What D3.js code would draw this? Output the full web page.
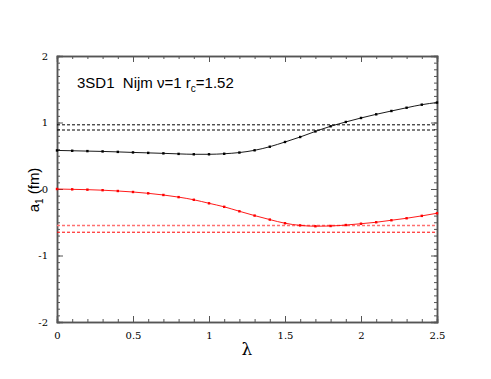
<!DOCTYPE html>
<html lang="en">
	<head>
		<meta charset="utf-8">
		<title>a1 vs lambda</title>
		<script type="text/javascript" src="https://cdn.jsdelivr.net/npm/d3@7"></script>
		<style type="text/css">
			body { margin: 0; background: #fff; }
			.serif { font-family: "DejaVu Serif", serif; }
		</style>
	</head>
	<body>
		<script type="text/javascript">

			//Width and height
			var w = 491;
			var h = 379;

			// data
			var lambda = [0, 0.1, 0.2, 0.3, 0.4, 0.5, 0.6, 0.7, 0.8, 0.9, 1.0, 1.1, 1.2,
			              1.3, 1.4, 1.5, 1.6, 1.7, 1.8, 1.9, 2.0, 2.1, 2.2, 2.3, 2.4, 2.5];
			var blackSeries = [0.58, 0.575, 0.57, 0.565, 0.558, 0.55, 0.543, 0.536, 0.528, 0.522, 0.522, 0.53, 0.548,
			                   0.582, 0.636, 0.707, 0.782, 0.866, 0.943, 1.008, 1.068, 1.123, 1.173, 1.222, 1.268, 1.30];
			var redSeries = [0, -0.005, -0.01, -0.018, -0.03, -0.045, -0.065, -0.09, -0.122, -0.162, -0.215, -0.268, -0.335,
			                 -0.40, -0.46, -0.515, -0.547, -0.56, -0.556, -0.542, -0.522, -0.50, -0.47, -0.44, -0.404, -0.365];
			var blackRefs = [0.965, 0.887];
			var redRefs = [-0.55, -0.65];

			var xTicks = [0, 0.5, 1, 1.5, 2, 2.5];
			var yTicks = [-2, -1, 0, 1, 2];

			var margin = {left: 57, right: 54, top: 56, bottom: 57};

			var x = d3.scaleLinear().domain([0, 2.5]).range([margin.left, w - margin.right]);
			var y = d3.scaleLinear().domain([-2, 2]).range([h - margin.bottom, margin.top]);

			//Create SVG element
			var svg = d3.select("body")
						.append("svg")
						.attr("width", w)
						.attr("height", h);

			var minorX = d3.range(0, 2.501, 0.1);
			var minorY = d3.range(-2, 2.001, 0.1);

			function fmt(d) { return String(d); }

			// axes, ticks pointing inward
			var axColor = "#555";
			svg.append("g")
				.attr("transform", "translate(0," + y(-2) + ")")
				.call(d3.axisBottom(x).tickValues(minorX).tickSize(-3).tickFormat(""));
			svg.append("g")
				.attr("transform", "translate(0," + y(-2) + ")")
				.call(d3.axisBottom(x).tickValues(xTicks).tickSize(-6).tickPadding(10).tickFormat(fmt));
			svg.append("g")
				.attr("transform", "translate(0," + y(2) + ")")
				.call(d3.axisTop(x).tickValues(minorX).tickSize(-3).tickFormat(""));
			svg.append("g")
				.attr("transform", "translate(0," + y(2) + ")")
				.call(d3.axisTop(x).tickValues(xTicks).tickSize(-6).tickFormat(""));
			svg.append("g")
				.attr("transform", "translate(" + x(0) + ",0)")
				.call(d3.axisLeft(y).tickValues(minorY).tickSize(-3).tickFormat(""));
			svg.append("g")
				.attr("transform", "translate(" + x(0) + ",0)")
				.call(d3.axisLeft(y).tickValues(yTicks).tickSize(-6).tickPadding(9).tickFormat(fmt));
			svg.append("g")
				.attr("transform", "translate(" + x(2.5) + ",0)")
				.call(d3.axisRight(y).tickValues(minorY).tickSize(-3).tickFormat(""));
			svg.append("g")
				.attr("transform", "translate(" + x(2.5) + ",0)")
				.call(d3.axisRight(y).tickValues(yTicks).tickSize(-6).tickFormat(""));

			svg.selectAll(".domain").attr("stroke", axColor).attr("stroke-width", 1.5);
			svg.selectAll(".tick line").attr("stroke", axColor);
			svg.selectAll("g").attr("font-family", null);
			svg.selectAll(".tick text")
				.attr("class", "serif")
				.style("font-size", "10px")
				.attr("fill", "#000");

			// reference dashed lines
			svg.selectAll("line.bref")
				.data(blackRefs)
				.enter()
				.append("line")
				.attr("x1", x(0)).attr("x2", x(2.5))
				.attr("y1", function(d) { return y(d); })
				.attr("y2", function(d) { return y(d); })
				.attr("stroke", "#000")
				.attr("stroke-width", 1)
				.attr("stroke-dasharray", "3,2");

			svg.selectAll("line.rref")
				.data(redRefs)
				.enter()
				.append("line")
				.attr("x1", x(0)).attr("x2", x(2.5))
				.attr("y1", function(d) { return y(d); })
				.attr("y2", function(d) { return y(d); })
				.attr("stroke", function(d, i) { return i == 0 ? "#ff7070" : "#ff0000"; })
				.attr("stroke-width", function(d, i) { return i == 0 ? 1.5 : 1; })
				.attr("stroke-dasharray", "3,2");

			var line = d3.line()
				.x(function(d) { return x(d[0]); })
				.y(function(d) { return y(d[1]); })
				.curve(d3.curveMonotoneX);

			function drawSeries(vals, col) {
				var pts = lambda.map(function(l, i) { return [l, vals[i]]; });
				svg.append("path")
					.attr("d", line(pts))
					.attr("fill", "none")
					.attr("stroke", col)
					.attr("stroke-width", 0.9);
				svg.selectAll(null)
					.data(pts)
					.enter()
					.append("rect")
					.attr("x", function(d) { return x(d[0]) - 1.2; })
					.attr("y", function(d) { return y(d[1]) - 1.2; })
					.attr("width", 2.4)
					.attr("height", 2.4)
					.attr("fill", col);
			}

			drawSeries(blackSeries, "#000");
			drawSeries(redSeries, "#ff0000");

			// annotation
			var note = svg.append("text")
				.attr("x", 77)
				.attr("y", 88)
				.attr("font-family", "'Liberation Sans', Arial, sans-serif")
				.attr("font-size", 15)
				.attr("fill", "#000");
			note.append("tspan").text("3SD1\u00a0\u00a0Nijm \u03bd=1 r");
			note.append("tspan").attr("font-size", 10).attr("dy", 4).text("c");
			note.append("tspan").attr("dy", -4).text("=1.52");

			// axis labels
			var yl = svg.append("text")
				.attr("transform", "translate(39,190) rotate(-90)")
				.attr("text-anchor", "middle")
				.attr("font-family", "'Liberation Sans', Arial, sans-serif")
				.attr("font-size", 15)
				.attr("fill", "#000");
			yl.append("tspan").text("a");
			yl.append("tspan").attr("font-size", 10).attr("dy", 4).text("1");
			yl.append("tspan").attr("dy", -4).text(" (fm)");

			svg.append("text")
				.attr("class", "serif")
				.attr("x", x(1.25))
				.attr("y", 355)
				.attr("text-anchor", "middle")
				.attr("font-size", 17)
				.attr("fill", "#000")
				.text("\u03bb");

		</script>
	</body>
</html>
